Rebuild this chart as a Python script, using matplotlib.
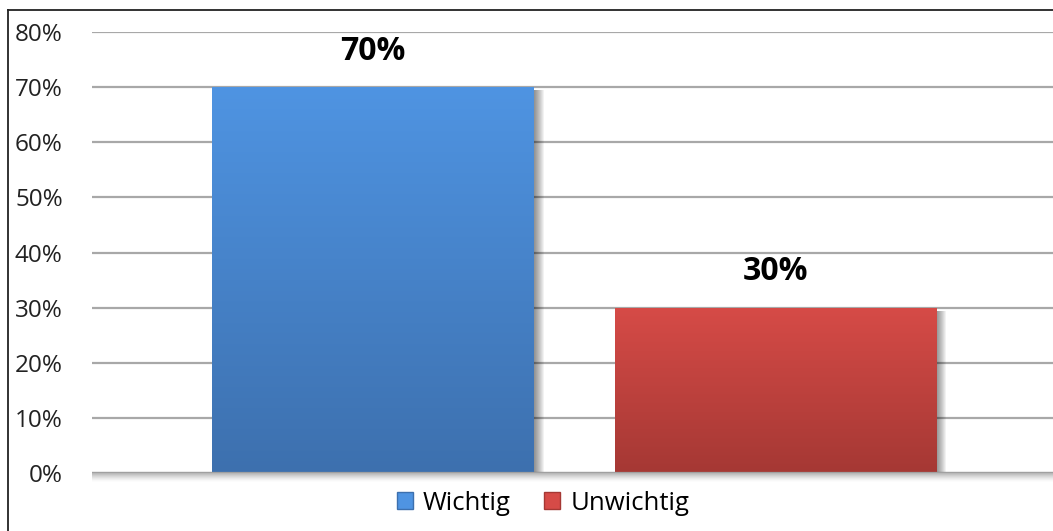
import matplotlib.pyplot as plt
import matplotlib.patches as mpatches
from matplotlib.lines import Line2D
from matplotlib.colors import LinearSegmentedColormap
import numpy as np

categories = ["Wichtig", "Unwichtig"]
values = [0.70, 0.30]
tick_vals = [0, 0.1, 0.2, 0.3, 0.4, 0.5, 0.6, 0.7, 0.8]
tick_labels = ["0%", "10%", "20%", "30%", "40%", "50%", "60%", "70%", "80%"]
grad_top = ["#4f94e2", "#d64b47"]
grad_bot = ["#3d70ae", "#a53834"]

plt.rcParams['font.family'] = ['Open Sans', 'DejaVu Sans']

fig = plt.figure(figsize=(10.53, 5.31), dpi=100)
ax = fig.add_axes([92 / 1053, 1 - 473 / 531, 1 - 92 / 1053, 441 / 531])

# outer frame of the chart area (runs off the right and bottom edges)
fig.add_artist(Line2D([8 / 1053, 1.0], [1 - 10 / 531] * 2, transform=fig.transFigure, color="#222222", lw=1.3))
fig.add_artist(Line2D([8 / 1053] * 2, [0, 1 - 10 / 531], transform=fig.transFigure, color="#222222", lw=1.3))

xmin, xmax = -0.699, 1.69
ax.set_yticks(tick_vals)
ax.set_yticklabels(tick_labels, fontsize=17.5, color="#222222")
ax.tick_params(axis="y", length=0, pad=21)
ax.set_xticks([])
for s in ax.spines.values():
    s.set_visible(False)
ax.grid(axis="y", color="#a8a8a8", lw=1.6)
ax.set_axisbelow(True)

px_x = 1 / 402
px_y = 0.8 / 441
width = 0.8
x = np.arange(len(categories))

# soft shadow below the baseline
for k in range(9):
    ax.add_patch(mpatches.Rectangle((xmin, -px_y * (k + 1)), xmax - xmin, px_y, color="black",
                                    alpha=0.28 * (1 - k / 9) ** 1.5, lw=0, clip_on=False, zorder=1))

for i, v in enumerate(values):
    x0 = x[i] - width / 2
    # shadow to the right of each bar
    for k in range(10):
        ax.add_patch(mpatches.Rectangle((x0 + width, 0), px_x * (k + 1), v - px_y * 3,
                                        color="black", alpha=0.05, lw=0, zorder=1.5))
    rect = mpatches.Rectangle((x0, 0), width, v, facecolor="none", edgecolor="none", zorder=3)
    ax.add_patch(rect)
    cmap = LinearSegmentedColormap.from_list("g", [grad_bot[i], grad_top[i]])
    grad = np.linspace(0, 1, 256).reshape(-1, 1)
    im = ax.imshow(grad, cmap=cmap, aspect="auto", origin="lower",
                   extent=[x0, x0 + width, 0, v], zorder=2)
    im.set_clip_path(rect)
    ax.text(x[i], v + 0.035, f"{int(round(v * 100))}%", ha="center", va="bottom",
            fontsize=23, fontweight="bold", color="black")

ax.axhline(0, color="#a0a0a0", lw=1.6, zorder=2.5)
ax.set_xlim(xmin, xmax)
ax.set_ylim(0, 0.8)

handles = [mpatches.Patch(facecolor=grad_top[i], edgecolor=grad_bot[i], label=categories[i])
           for i in range(len(categories))]
fig.legend(handles=handles, loc="center", bbox_to_anchor=(543 / 1053, 1 - 503 / 531), ncol=2,
           frameon=False, fontsize=18.5, handlelength=0.62, handleheight=0.62,
           handletextpad=0.4, columnspacing=1.3)

fig.savefig("out.png", dpi=100)
